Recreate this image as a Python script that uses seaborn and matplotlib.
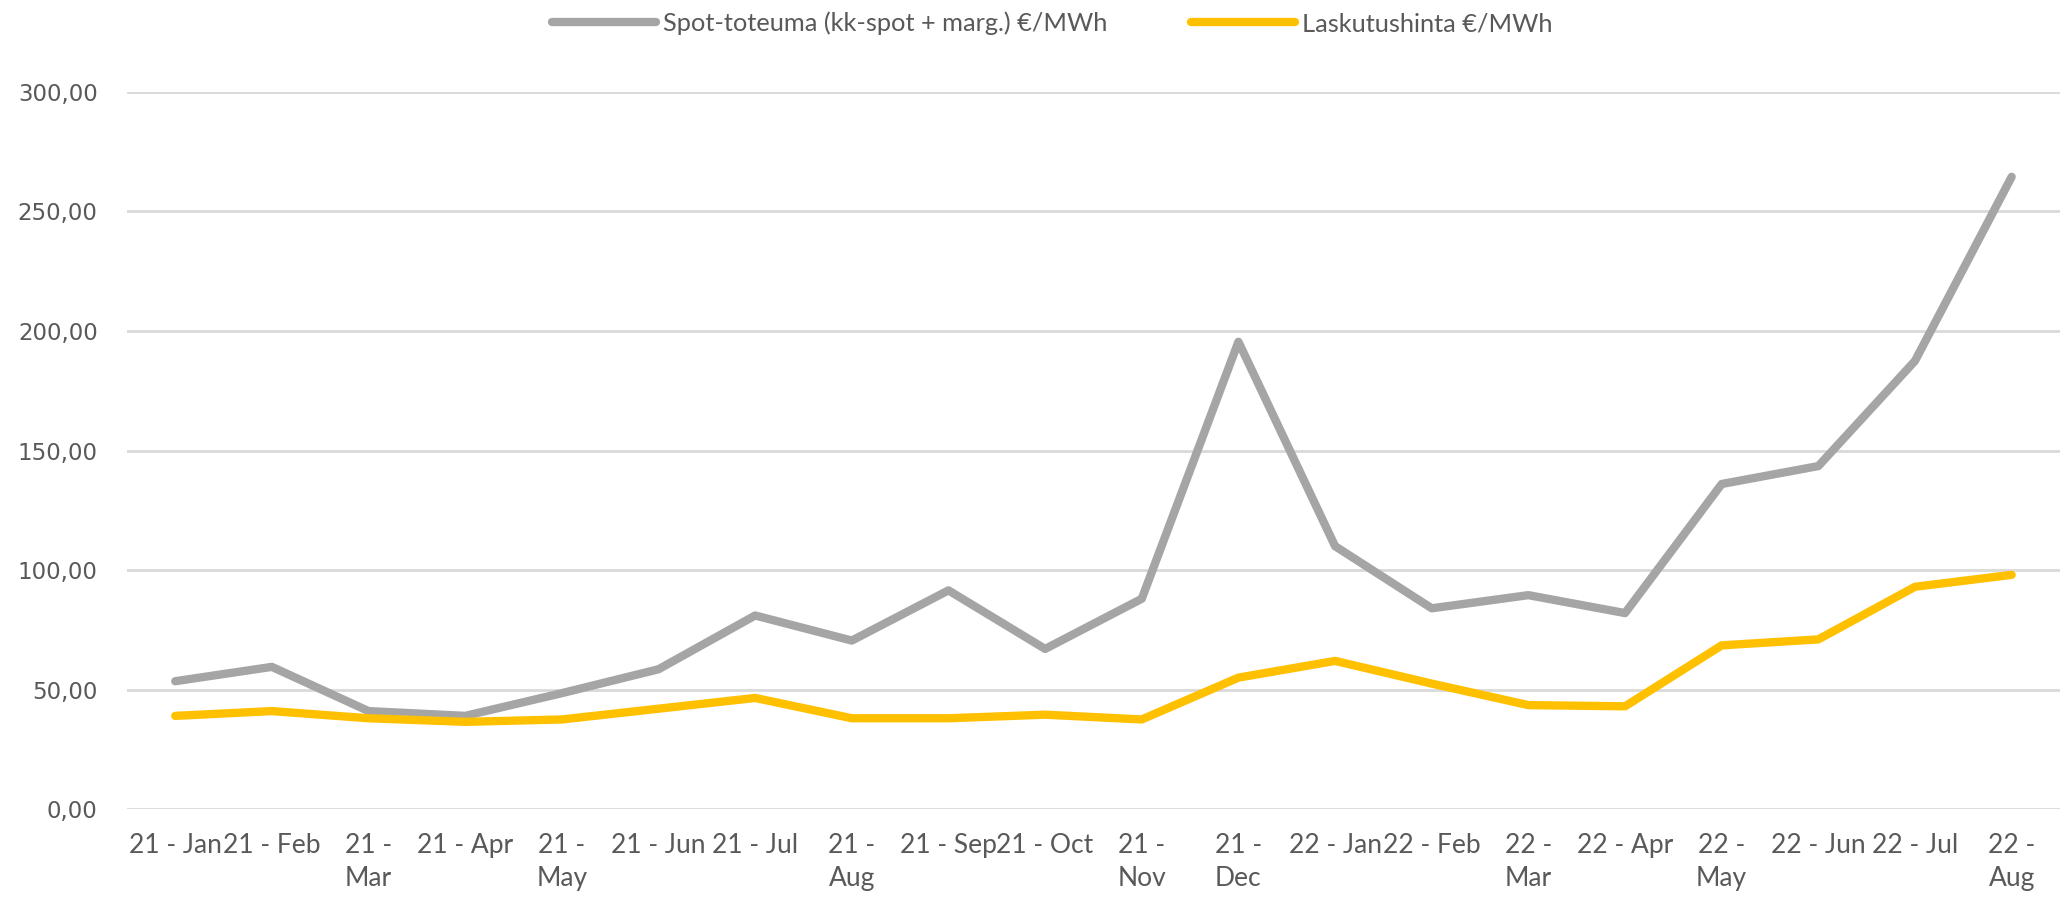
import pandas as pd
import matplotlib.pyplot as plt
import seaborn as sns

months = ['21 - Jan', '21 - Feb', '21 -\nMar', '21 - Apr', '21 -\nMay', '21 - Jun',
          '21 - Jul', '21 -\nAug', '21 - Sep', '21 - Oct', '21 -\nNov', '21 -\nDec',
          '22 - Jan', '22 - Feb', '22 -\nMar', '22 - Apr', '22 -\nMay', '22 - Jun',
          '22 - Jul', '22 -\nAug']
spot = [53.5, 59.5, 41, 39, 48.5, 58.5, 81, 70.5, 91.5, 67, 88, 195.5,
        110, 84, 89.5, 82, 136, 143.5, 187.5, 264.5]
lasku = [39, 41, 38, 36.5, 37.5, 42, 46.5, 38, 38, 39.5, 37.5, 55,
         62, 52.5, 43.5, 43, 68.5, 71, 93, 98]
series_names = ['Spot-toteuma (kk-spot + marg.) €/MWh', 'Laskutushinta €/MWh']
y_ticks = [0, 50, 100, 150, 200, 250, 300]

df = pd.DataFrame({
    'x': list(range(len(months))) * 2,
    'value': spot + lasku,
    'series': [series_names[0]] * len(months) + [series_names[1]] * len(months),
})

sns.set_style('white')
plt.rcParams['font.family'] = ['DejaVu Sans']
narrow = ['Lato', 'DejaVu Sans']

fig = plt.figure(figsize=(20.67, 8.99), dpi=100)
ax = fig.add_axes([0.0614, 0.1, 0.9352, 0.7977])

sns.lineplot(data=df, x='x', y='value', hue='series',
             palette=['#A5A5A5', '#FFC000'], linewidth=6,
             ax=ax, legend=False)

ax.set_xlim(-0.5, len(months) - 0.5)
ax.set_ylim(0, 300)
ax.set_yticks(y_ticks)
ax.set_yticklabels([f'{v:.2f}'.replace('.', ',') for v in y_ticks],
                   fontsize=16.5, color='#595959')
ax.set_xticks(range(len(months)))
ax.set_xticklabels(months, fontsize=19, color='#595959', family=narrow,
                   linespacing=1.4, va='top')
ax.tick_params(axis='y', length=0, pad=21)
ax.tick_params(axis='x', length=0, pad=17)
ax.set_xlabel('')
ax.set_ylabel('')
ax.grid(axis='y', color='#D9D9D9', linewidth=2)
ax.set_axisbelow(True)
for s in ax.spines.values():
    s.set_visible(False)

handles = [plt.Line2D([], [], color=c, linewidth=6) for c in ['#A5A5A5', '#FFC000']]
fig.legend(handles, series_names, loc='center', bbox_to_anchor=(0.509, 0.974),
           ncol=2, frameon=False, handlelength=4.1, handletextpad=0.25,
           columnspacing=3.3, prop={'family': narrow, 'size': 18.3},
           labelcolor='#595959')

fig.savefig('out.png', dpi=100, facecolor='white')
